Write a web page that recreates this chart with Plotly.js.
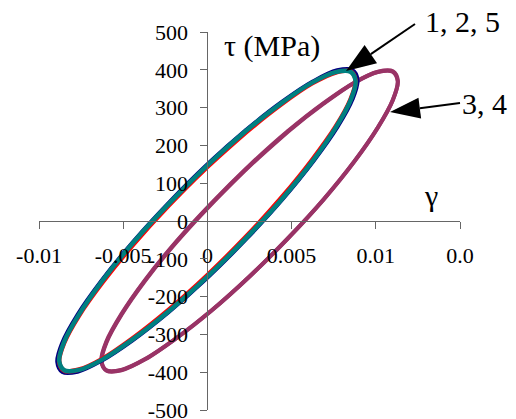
<!DOCTYPE html>
<html>
<head>
<meta charset="utf-8">
<script src="https://cdn.plot.ly/plotly-3.0.1.min.js"></script>
<style>
html, body { margin: 0; padding: 0; background: #fff; font-family: 'Liberation Serif', serif; }
#chart text { font-family: 'Liberation Serif', serif !important; }
</style>
</head>
<body>
<div id="chart"></div>
<script>
// Shear strain (gamma) and shear stress (tau, MPa) read from the loops
const gammaLoop1 = [-0.0023, 0, 0.0023, 0.00445, 0.00629, 0.00771, 0.0086, 0.0089, 0.0086, 0.00771, 0.00629, 0.00445, 0.0023, 0, -0.0023, -0.00445, -0.00629, -0.00771, -0.0086, -0.0089, -0.0086, -0.00771, -0.00629, -0.00445, -0.0023, 0, 0.0023];
const tauLoop1   = [47, 149, 240, 315, 369, 398, 399, 373, 322, 249, 159, 58, -47, -149, -240, -315, -369, -398, -399, -373, -322, -249, -159, -58, 47, 149, 240];

const gammaLoop2 = [-0.00228, 0, 0.00228, 0.0044, 0.00622, 0.00762, 0.0085, 0.0088, 0.0085, 0.00762, 0.00622, 0.0044, 0.00228, 0, -0.00228, -0.0044, -0.00622, -0.00762, -0.0085, -0.0088, -0.0085, -0.00762, -0.00622, -0.0044, -0.00228, 0, 0.00228];
const tauLoop2   = [42, 143, 234, 309, 364, 393, 396, 372, 322, 250, 162, 62, -42, -143, -234, -309, -364, -393, -396, -372, -322, -250, -162, -62, 42, 143, 234];

const gammaLoop3 = [0.00024, 0.00252, 0.0048, 0.00692, 0.00873, 0.01013, 0.01101, 0.01131, 0.01101, 0.01013, 0.00873, 0.00692, 0.0048, 0.00252, 0.00024, -0.00188, -0.0037, -0.0051, -0.00598, -0.00628, -0.00598, -0.0051, -0.0037, -0.00188, 0.00024, 0.00252, 0.0048];
const tauLoop3   = [45, 146, 237, 311, 366, 395, 396, 371, 320, 248, 158, 58, -45, -146, -237, -311, -366, -395, -396, -371, -320, -248, -158, -58, 45, 146, 237];

const gammaLoop4 = [0.00022, 0.0025, 0.00478, 0.0069, 0.00872, 0.01012, 0.011, 0.0113, 0.011, 0.01012, 0.00872, 0.0069, 0.00478, 0.0025, 0.00022, -0.0019, -0.00372, -0.00512, -0.006, -0.0063, -0.006, -0.00512, -0.00372, -0.0019, 0.00022, 0.0025, 0.00478];
const tauLoop4   = [46, 147, 238, 312, 366, 394, 395, 370, 319, 247, 157, 57, -46, -147, -238, -312, -366, -394, -395, -370, -319, -247, -157, -57, 46, 147, 238];

const gammaLoop5 = [-0.00228, 0, 0.00228, 0.0044, 0.00622, 0.00762, 0.0085, 0.0088, 0.0085, 0.00762, 0.00622, 0.0044, 0.00228, 0, -0.00228, -0.0044, -0.00622, -0.00762, -0.0085, -0.0088, -0.0085, -0.00762, -0.00622, -0.0044, -0.00228, 0, 0.00228];
const tauLoop5   = [46, 147, 238, 312, 366, 394, 395, 370, 319, 247, 157, 57, -46, -147, -238, -312, -366, -394, -395, -370, -319, -247, -157, -57, 46, 147, 238];

const xTickVals  = [-0.01, -0.005, 0, 0.005, 0.01, 0.015];
const xTickText  = ['-0.01', '-0.005', '0', '0.005', '0.01', '0.0'];
const yTickVals  = [-500, -400, -300, -200, -100, 0, 100, 200, 300, 400, 500];
const yTickText  = ['-500', '-400', '-300', '-200', '-100', '0', '100', '200', '300', '400', '500'];

const SERIF = 'Liberation Serif';

function loop(x, y, color, width, name) {
  return {x: x, y: y, type: 'scatter', mode: 'lines', name: name,
          line: {color: color, width: width, shape: 'spline', smoothing: 1},
          hoverinfo: 'skip'};
}

function buildTraces() {
  return [
    loop(gammaLoop3, tauLoop3, '#993366', 4, '3'),
    loop(gammaLoop4, tauLoop4, '#993366', 4, '4'),
    loop(gammaLoop1, tauLoop1, '#000080', 4.5, '1'),
    loop(gammaLoop2, tauLoop2, '#FF0000', 4.5, '2'),
    loop(gammaLoop5, tauLoop5, '#008080', 4.5, '5')
  ];
}

function buildLayout() {
  const axisCommon = {
    anchor: 'free', showline: true, linecolor: '#666', linewidth: 1,
    ticks: 'outside', ticklen: 7, tickcolor: '#666', tickwidth: 1,
    showgrid: false, zeroline: false, tickmode: 'array', fixedrange: true,
    ticklabeloverflow: 'allow',
    tickfont: {family: SERIF, size: 22, color: '#000'}
  };
  const ann = (text, x, y) => ({text: text, xref: 'paper', yref: 'paper', x: x, y: y,
    xanchor: 'center', yanchor: 'middle', showarrow: false,
    font: {family: SERIF, size: 30, color: '#000'}});
  return {
    width: 516, height: 419,
    font: {family: SERIF, color: '#000'},
    margin: {l: 39, r: 56, t: 32, b: 9, pad: 0},
    paper_bgcolor: '#fff', plot_bgcolor: '#fff',
    showlegend: false,
    xaxis: Object.assign({}, axisCommon, {
      range: [-0.01, 0.015], position: 0.5,
      tickvals: xTickVals, ticktext: xTickText, ticklabelstandoff: 8
    }),
    yaxis: Object.assign({}, axisCommon, {
      range: [-500, 500], position: 0.4,
      tickvals: yTickVals, ticktext: yTickText, ticklabelstandoff: 8
    }),
    annotations: [
      ann('τ (MPa)', 0.5534, 0.962),
      ann('γ', 0.931, 0.568),
      ann('1, 2, 5', 1.005, 1.027),
      ann('3, 4', 1.059, 0.812)
    ],
    shapes: [
      {type: 'line', xref: 'paper', yref: 'paper', x0: 0.8931, y0: 1.0212, x1: 0.7881, y1: 0.9415, line: {color: '#000', width: 2}},
      {type: 'path', xref: 'paper', yref: 'paper', path: 'M 0.7292 0.8968 L 0.8029 0.9175 L 0.7734 0.9656 Z', fillcolor: '#000', line: {width: 0}},
      {type: 'line', xref: 'paper', yref: 'paper', x0: 1.0, y0: 0.8122, x1: 0.9045, y1: 0.7984, line: {color: '#000', width: 2}},
      {type: 'path', xref: 'paper', yref: 'paper', path: 'M 0.8337 0.7884 L 0.9076 0.7709 L 0.9014 0.8259 Z', fillcolor: '#000', line: {width: 0}}
    ]
  };
}

Plotly.newPlot('chart', buildTraces(), buildLayout(), {staticPlot: true});
if (document.fonts && document.fonts.load) {
  document.fonts.load('22px "Liberation Serif"').then(function () {
    Plotly.react('chart', buildTraces(), buildLayout(), {staticPlot: true});
  }).catch(function () {});
}
</script>
</body>
</html>
